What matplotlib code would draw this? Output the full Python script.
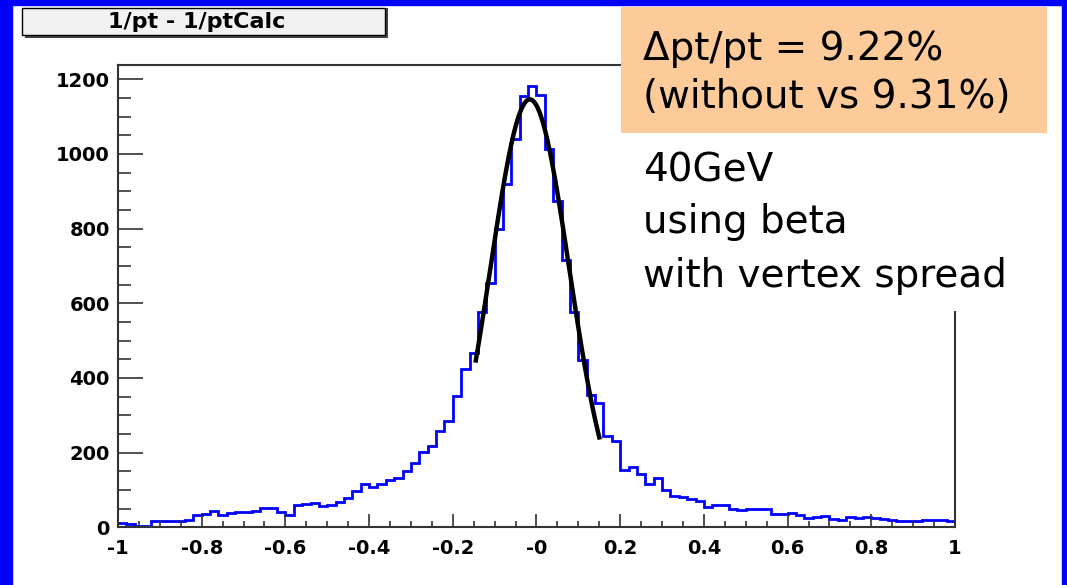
import numpy as np
import matplotlib.pyplot as plt
from matplotlib.patches import Rectangle

# histogram contents of 1/pt - 1/ptCalc, 100 bins from -1 to 1
counts = [11, 10, 4, 5, 17, 18, 18, 18, 19, 33,
          35, 45, 33, 39, 41, 42, 44, 51, 51, 40,
          33, 60, 63, 65, 56, 61, 69, 80, 97, 115,
          109, 115, 128, 132, 150, 173, 202, 219, 258, 284,
          352, 425, 468, 577, 655, 799, 919, 1039, 1155, 1181,
          1159, 1012, 875, 715, 577, 448, 355, 332, 244, 230,
          155, 161, 144, 115, 131, 100, 85, 81, 76, 72,
          55, 59, 61, 50, 46, 48, 48, 50, 35, 35,
          39, 32, 26, 28, 30, 23, 21, 27, 26, 28,
          26, 23, 21, 17, 16, 17, 21, 19, 21, 17]
x_lo, x_hi, n_bins = -1.0, 1.0, 100

# gaussian fit drawn on top
fit_amp = 1146
fit_mean = -0.016
fit_sigma = 0.094
fit_lo, fit_hi = -0.145, 0.150

xticks = [-1, -0.8, -0.6, -0.4, -0.2, 0, 0.2, 0.4, 0.6, 0.8, 1]
xlabels = ['-1', '-0.8', '-0.6', '-0.4', '-0.2', '-0', '0.2', '0.4', '0.6', '0.8', '1']
yticks = [0, 200, 400, 600, 800, 1000, 1200]

title = '1/pt - 1/ptCalc'
box_lines = ['\u0394pt/pt = 9.22%', '(without vs 9.31%)']
note_lines = ['40GeV', 'using beta', 'with vertex spread']

W, H = 1067, 585
fig = plt.figure(figsize=(W / 100, H / 100), dpi=100)
fig.patch.set_facecolor('white')

def fx(px):
    return px / W

def fy(py):
    return 1 - py / H

ax = fig.add_axes([fx(118), fy(527.4), fx(955 - 118), (527.4 - 65) / H])

edges = np.linspace(x_lo, x_hi, n_bins + 1)
ax.stairs(counts, edges, baseline=None, color='#0000ff', lw=2)

xf = np.linspace(fit_lo, fit_hi, 200)
yf = fit_amp * np.exp(-0.5 * ((xf - fit_mean) / fit_sigma) ** 2)
ax.plot(xf, yf, color='black', lw=3.2)

ax.set_xlim(x_lo, x_hi)
ax.set_ylim(0, 1238)
ax.set_xticks(xticks)
ax.set_xticklabels(xlabels)
ax.set_yticks(yticks)
ax.set_xticks(np.arange(-1, 1.001, 0.05), minor=True)
ax.set_yticks(np.arange(0, 1201, 50), minor=True)

for lab in ax.get_xticklabels() + ax.get_yticklabels():
    lab.set_fontweight('bold')
    lab.set_fontsize(14)
    lab.set_family('DejaVu Sans')

ax.tick_params(axis='both', which='both', direction='in', color='#333333', width=1.2)
ax.tick_params(axis='y', which='major', length=18, pad=6)
ax.tick_params(axis='y', which='minor', length=9)
ax.tick_params(axis='x', which='major', length=9.5, pad=8)
ax.tick_params(axis='x', which='minor', length=4.5)
for sp in ax.spines.values():
    sp.set_color('#333333')
    sp.set_linewidth(1.5)

# blue frame of the slide
blue = '#0000ff'
fig.add_artist(Rectangle((0, 0), fx(12), 1, transform=fig.transFigure, color=blue, zorder=5))
fig.add_artist(Rectangle((0, fy(5)), 1, 5 / H, transform=fig.transFigure, color=blue, zorder=5))
fig.add_artist(Rectangle((fx(1062), 0), fx(5), 1, transform=fig.transFigure, color=blue, zorder=5))

# title pave with shadow
fig.add_artist(Rectangle((fx(25), fy(38)), fx(363), 30 / H, transform=fig.transFigure,
                         facecolor='#444444', edgecolor='none', zorder=3))
fig.add_artist(Rectangle((fx(22), fy(35)), fx(363), 27 / H, transform=fig.transFigure,
                         facecolor='#f2f2f2', edgecolor='black', lw=1, zorder=4))
fig.text(fx(197), fy(21.5), title, ha='center', va='center', fontsize=16,
         fontweight='bold', family='DejaVu Sans', zorder=6)

# white area and orange result box on the right
fig.add_artist(Rectangle((fx(621), fy(311)), fx(426), (311 - 133) / H,
                         transform=fig.transFigure, facecolor='white', edgecolor='none', zorder=3))
fig.add_artist(Rectangle((fx(621), fy(133)), fx(426), (133 - 7) / H,
                         transform=fig.transFigure, facecolor='#fdca99', edgecolor='none', zorder=3))

for txt, base in zip(box_lines, [60, 108]):
    fig.text(fx(643), fy(base), txt, ha='left', va='baseline', fontsize=28,
             family='DejaVu Sans', zorder=6)
for txt, base in zip(note_lines, [182, 233, 287]):
    fig.text(fx(643), fy(base), txt, ha='left', va='baseline', fontsize=28,
             family='DejaVu Sans', zorder=6)

fig.savefig('out.png', dpi=100)
